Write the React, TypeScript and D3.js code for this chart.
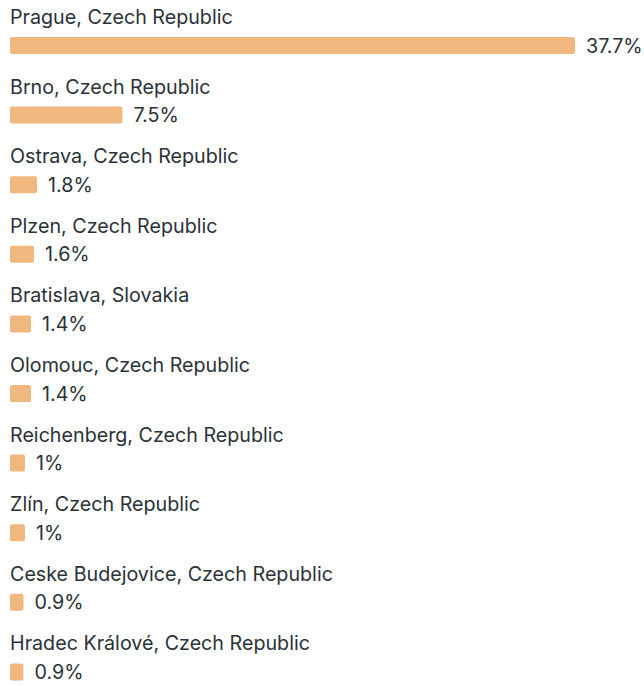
import React, { useEffect, useRef } from 'react'
import * as d3 from 'd3'

const cities = [
  'Prague, Czech Republic',
  'Brno, Czech Republic',
  'Ostrava, Czech Republic',
  'Plzen, Czech Republic',
  'Bratislava, Slovakia',
  'Olomouc, Czech Republic',
  'Reichenberg, Czech Republic',
  'Zlín, Czech Republic',
  'Ceske Budejovice, Czech Republic',
  'Hradec Králové, Czech Republic',
]
const shares = [37.7, 7.5, 1.8, 1.6, 1.4, 1.4, 1, 1, 0.9, 0.9]

const width = 644
const height = 686
const left = 10
const barH = 17

export default function App() {
  const svgRef = useRef<SVGSVGElement>(null)

  useEffect(() => {
    if (!svgRef.current) return
    const svg = d3.select(svgRef.current)
    svg.selectAll('*').remove()

    const x = d3.scaleLinear().domain([0, 37.7]).range([0, 565])
    const y = d3.scaleBand<number>()
      .domain(d3.range(cities.length))
      .range([0, 69.6 * cities.length])

    const rows = svg.selectAll('g.row')
      .data(cities.map((c, i) => ({ city: c, value: shares[i], i })))
      .enter()
      .append('g')
      .attr('class', 'row')
      .attr('transform', d => `translate(${left},${y(d.i)})`)

    rows.append('text')
      .attr('x', 0)
      .attr('y', 24)
      .style('font-family', 'Inter, "Noto Sans", sans-serif')
      .style('font-size', '19.7px')
      .attr('fill', '#2a3238')
      .text(d => d.city)

    rows.append('rect')
      .attr('x', 0)
      .attr('y', 37)
      .attr('width', d => x(d.value))
      .attr('height', barH)
      .attr('rx', 2)
      .attr('fill', '#f0b87e')

    rows.append('text')
      .attr('x', d => x(d.value) + 11)
      .attr('y', 37 + barH / 2)
      .attr('dominant-baseline', 'central')
      .style('font-family', 'Inter, "Noto Sans", sans-serif')
      .style('font-size', '19.7px')
      .attr('fill', '#2a3238')
      .text(d => `${d.value}%`)
  }, [])

  return (
    <svg
      ref={svgRef}
      width={width}
      height={height}
      style={{ position: 'absolute', left: 0, top: 0, display: 'block' }}
    />
  )
}
